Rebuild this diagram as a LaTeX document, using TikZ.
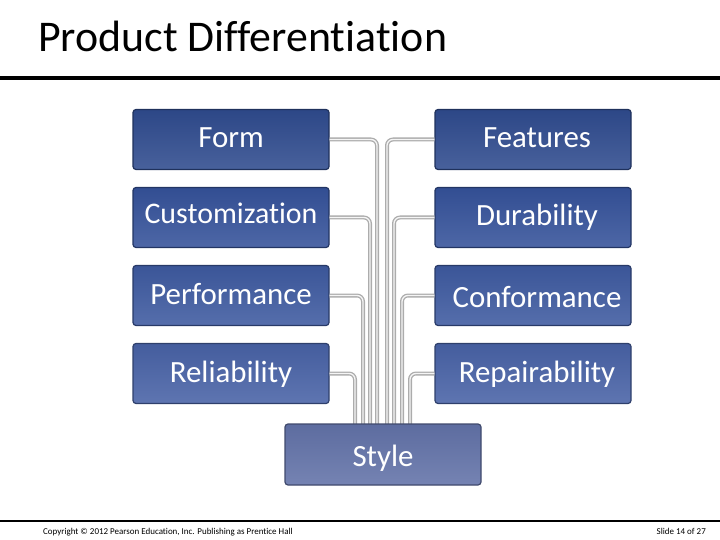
\documentclass[tikz,border=0pt]{standalone}
\usepackage{fontspec}
\setmainfont[RawFeature={-liga}]{Carlito}
\newcommand{\rt}[1]{\hspace*{8bp}#1}
\begin{document}
\begin{tikzpicture}[x=1bp,y=-1bp,
  box/.style={draw=#1!65!black, line width=1.2bp, top color=#1!95!black, bottom color=#1!88!white,
    rounded corners=3bp,
    minimum width=196bp, minimum height=60bp, inner sep=0pt, text=white,
    text height=20bp, text depth=0bp,
    font=\fontsize{31}{34}\selectfont},
  conn/.style={draw=gray!65, line width=4bp, rounded corners=6bp},
  conninner/.style={draw=gray!8, line width=1.3bp, rounded corners=6bp}]
\useasboundingbox (0,0) rectangle (720,540);
\definecolor{rowa}{HTML}{2F4B8E}
\definecolor{rowb}{HTML}{35529A}
\definecolor{rowc}{HTML}{3E5AA0}
\definecolor{rowd}{HTML}{4862A6}
\definecolor{rowe}{HTML}{6272A8}
% title
\node[anchor=base west, inner sep=0pt, font=\fontsize{44}{48}\selectfont] (title) at (38,52) {Product Differentiation};
\draw[line width=3.2bp] (0,78) -- (720,78);
% boxes
\node[box=rowa] (form) at (231,139.5) {\raisebox{1.5bp}{Form}};
\node[box=rowb, font=\fontsize{30}{34}\selectfont] (cust) at (231,217.5) {\raisebox{3.5bp}{Customization}};
\node[box=rowc] (perf) at (231,295.5) {\raisebox{1.5bp}{Performance}};
\node[box=rowd] (reli) at (231,373.5) {\raisebox{1.5bp}{Reliability}};
\node[box=rowa] (feat) at (533,139.5) {\raisebox{1.5bp}{\rt{Features}}};
\node[box=rowb] (dura) at (533,217.5) {\raisebox{1.5bp}{\rt{Durability}}};
\node[box=rowc] (conf) at (533,295.5) {\raisebox{-1.5bp}{\rt{Conformance}}};
\node[box=rowd] (repa) at (533,373.5) {\raisebox{1.5bp}{\rt{Repairability}}};
% coordinates for vertical lanes
\coordinate (l1) at (377,0);
\coordinate (l2) at (370,0);
\coordinate (l3) at (363,0);
\coordinate (l4) at (355,0);
\coordinate (r1) at (387,0);
\coordinate (r2) at (394,0);
\coordinate (r3) at (402,0);
\coordinate (r4) at (410,0);
\coordinate (stop) at (383,424);
% connectors
\foreach \s/\l in {form/l1,cust/l2,perf/l3,reli/l4}{
  \draw[conn] (\s.east) -- (\s.east -| \l) -- (stop -| \l);
  \draw[conninner] (\s.east) -- (\s.east -| \l) -- (stop -| \l);
}
\foreach \s/\l in {feat/r1,dura/r2,conf/r3,repa/r4}{
  \draw[conn] (\s.west) -- (\s.west -| \l) -- (stop -| \l);
  \draw[conninner] (\s.west) -- (\s.west -| \l) -- (stop -| \l);
}
\node[box=rowe, minimum height=61bp] (style) at (383,454.5) {\raisebox{-1.5bp}{Style}};
% footer
\draw[line width=1.4bp] (0,521) -- (720,521);
\node[anchor=base west, inner sep=0pt, font=\fontsize{9}{10}\selectfont] (copy) at (43,534) {Copyright © 2012 Pearson Education, Inc. Publishing as Prentice Hall};
\node[anchor=base east, inner sep=0pt, font=\fontsize{9}{10}\selectfont] (slide) at (706,534) {Slide 14 of 27};
\end{tikzpicture}
\end{document}
